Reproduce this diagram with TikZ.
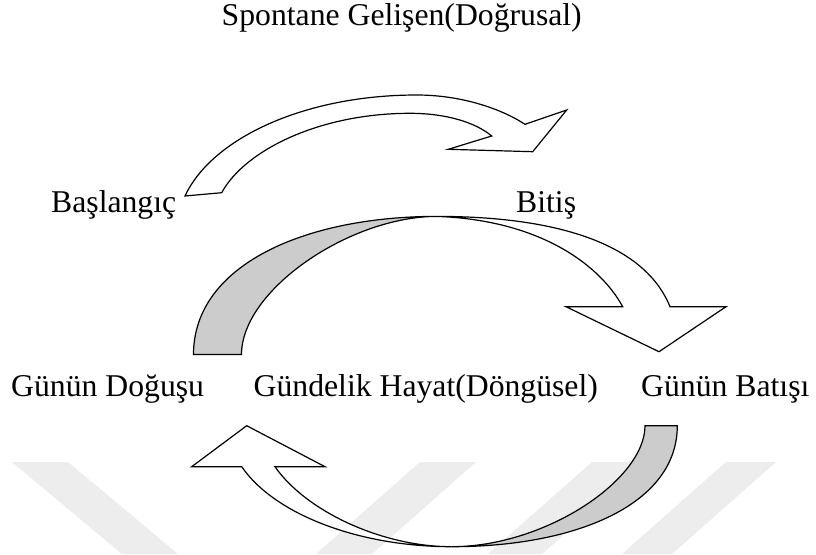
\documentclass[tikz,border=0pt]{standalone}
\usepackage{fontspec}
\setmainfont{Liberation Serif}
\begin{document}
\tikzset{
  lbl/.style={font=\fontsize{31.7}{38}\selectfont, inner sep=0pt, anchor=base west},
  frontside/.style={draw=black, line width=1.2pt, line join=miter, fill=white},
  backside/.style={draw=black, line width=1.2pt, line join=miter, fill=black!20},
  wmark/.style={fill=black!7, draw=none}
}
\begin{tikzpicture}[x=1pt,y=-1pt]
\useasboundingbox (0,0) rectangle (816,554);
\fill[white] (0,0) rectangle (816,554);

% faint watermark stripes
\fill[wmark] (12,462) -- (68,462) -- (178,554) -- (122,554) -- cycle;
\fill[wmark] (420,462) -- (476,462) -- (372,554) -- (316,554) -- cycle;
\fill[wmark] (592,462) -- (646,462) -- (542,554) -- (488,554) -- cycle;
\fill[wmark] (726,462) -- (776,462) -- (672,554) -- (622,554) -- cycle;

% top arrow (linear development)
\draw[frontside] (185,196) .. controls (212,138) and (305,95) .. (416.7,95)
  .. controls (460,95) and (500,108) .. (525,124.3)
  -- (566.7,110) -- (532.7,151.7) -- (448.3,149.3) -- (491.7,136)
  .. controls (475,122) and (445,113.3) .. (410,113.3)
  .. controls (320,113.3) and (245,150) .. (221.7,192.7) -- cycle;

% middle arrow: back side (grey)
\draw[backside] (193.5,354.5) .. controls (193.5,265) and (305,216.4) .. (436.8,216.4)
  .. controls (350,216.4) and (241.5,290) .. (241.5,354.5) -- cycle;
% middle arrow: front side with head
\draw[frontside] (436.8,216.4) .. controls (560,216.4) and (645,245) .. (670,306.7)
  -- (726,306.7) -- (659,351.7) -- (566,306.7) -- (622.7,306.7)
  .. controls (600,265) and (540,220) .. (436.8,216.4) -- cycle;

% bottom arrow: back side (grey)
\draw[backside] (677.3,425.7) .. controls (677.3,505) and (575,546.7) .. (451.7,546.7)
  .. controls (545,546.7) and (645,480) .. (645,425.7) -- cycle;
% bottom arrow: front side with head
\draw[frontside] (451.7,546.7) .. controls (360,546.7) and (275,515) .. (241.7,466.7)
  -- (191.7,466.7) -- (246.7,425.7) -- (325,466.7) -- (275,466.7)
  .. controls (305,510) and (380,546.7) .. (451.7,546.7) -- cycle;

% labels
\node[lbl] (title) at (221.5,25) {Spontane Gelişen(Doğrusal)};
\node[lbl] (start) at (51,212.7) {Başlangıç};
\node[lbl] (end) at (516,212.7) {Bitiş};
\node[lbl] (dawn) at (11,396.5) {Günün Doğuşu};
\node[lbl] (daily) at (253.5,396.5) {Gündelik Hayat(Döngüsel)};
\node[lbl] (dusk) at (641,396.5) {Günün Batışı};
\end{tikzpicture}
\end{document}
